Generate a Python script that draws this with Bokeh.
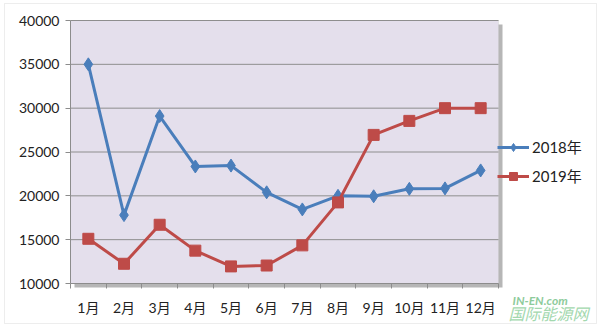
from bokeh.plotting import figure
from bokeh.models import Range1d, Legend, LegendItem, FixedTicker, Label, BoxAnnotation
from bokeh.embed import file_html
from bokeh.resources import INLINE

months = ["1月", "2月", "3月", "4月", "5月", "6月", "7月", "8月", "9月", "10月", "11月", "12月"]
s2018 = [35000, 17800, 29100, 23350, 23450, 20400, 18450, 20000, 19950, 20800, 20850, 22900]
s2019 = [15100, 12250, 16700, 13750, 11950, 12050, 14350, 19250, 26950, 28550, 30000, 30000]
names = ["2018年", "2019年"]
yticks = [10000, 15000, 20000, 25000, 30000, 35000, 40000]
watermark = ["IN-EN.com", "国际能源网"]

W, H = 600, 327
# plot-area geometry (pixels) of the chart
PL, PR, PT, PB = 70, 498, 20, 283
YMIN, YMAX = 10000, 40000
n = len(months)
xs = list(range(1, n + 1))

ux = (PR - PL) / n                 # px per category
uy = (PB - PT) / (YMAX - YMIN)      # px per value unit
x0 = 0.5 - PL / ux
x1 = n + 0.5 + (W - PR) / ux
y0 = YMIN - (H - PB) / uy
y1 = YMAX + PT / uy

def px_x(px):
    return x0 + px / ux

def px_y(py):
    return y1 - py / uy

FONT = "Lato, 'Noto Sans CJK SC', sans-serif"

p = figure(width=W, height=H, x_range=Range1d(x0, x1), y_range=Range1d(y0, y1),
           output_backend="svg", toolbar_location=None,
           min_border_left=0, min_border_right=0, min_border_top=0, min_border_bottom=0)
p.background_fill_color = "white"
p.border_fill_color = "white"
p.outline_line_color = None
p.xgrid.grid_line_color = None
p.ygrid.grid_line_color = None

# outer frame of the picture
p.add_layout(BoxAnnotation(left=px_x(4), right=px_x(596), top=px_y(3), bottom=px_y(323),
                           fill_alpha=0, line_color="#C4C4C4", line_width=1, level="underlay"))
# shadow of the plot area
p.add_layout(BoxAnnotation(left=px_x(PL + 4), right=px_x(PR + 4), top=px_y(PT + 4), bottom=px_y(PB + 4),
                           fill_color="#9E9E9E", fill_alpha=0.75, line_color=None, level="underlay"))
# plot area
p.add_layout(BoxAnnotation(left=0.5, right=n + 0.5, top=YMAX, bottom=YMIN,
                           fill_color="#E4DFEC", fill_alpha=1.0, line_color="#C8C8C8", line_width=1,
                           level="underlay"))

# horizontal grid lines
gy = [v for v in yticks if v > YMIN]
p.segment(x0=[0.5] * len(gy), x1=[n + 0.5] * len(gy), y0=gy, y1=gy,
          line_color="#8E8E8E", line_width=1)

xa = p.xaxis[0]
ya = p.yaxis[0]
xa.fixed_location = YMIN
ya.fixed_location = 0.5
xa.bounds = (0.5, n + 0.5)
ya.bounds = (YMIN, YMAX)
xa.ticker = FixedTicker(ticks=xs, minor_ticks=[i + 0.5 for i in range(0, n + 1)])
xa.major_label_overrides = {i: m for i, m in zip(xs, months)}
ya.ticker = FixedTicker(ticks=yticks)
for ax in (xa, ya):
    ax.axis_line_color = "#8C8C8C"
    ax.major_label_text_font = FONT
    ax.major_label_text_font_size = "14px"
    ax.major_label_text_color = "#222222"
xa.major_tick_line_color = None
xa.minor_tick_line_color = "#8C8C8C"
xa.minor_tick_out = 5
xa.minor_tick_in = 0
xa.major_label_standoff = 9
ya.major_tick_line_color = "#8C8C8C"
ya.minor_tick_line_color = None
ya.major_tick_out = 5
ya.major_tick_in = 0
ya.major_label_standoff = 6

blue = "#4A7EBB"
red = "#BE4B48"
l1 = p.line(xs, s2018, line_color=blue, line_width=3)
m1 = p.scatter(xs, s2018, marker="diamond", size=13, fill_color=blue, line_color=blue)
l2 = p.line(xs, s2019, line_color=red, line_width=3)
m2 = p.scatter(xs, s2019, marker="square", size=11, fill_color=red, line_color=red)

legend = Legend(items=[LegendItem(label=names[0], renderers=[l1, m1]),
                       LegendItem(label=names[1], renderers=[l2, m2])],
                location=(497, H - 186), background_fill_alpha=0, border_line_color=None,
                label_text_font=FONT, label_text_font_size="15px", label_text_color="#222222",
                glyph_width=32, label_standoff=3, spacing=8, padding=4, margin=0)
p.add_layout(legend, "center")

p.add_layout(Label(x=px_x(512), y=px_y(300), text=watermark[0], text_font=FONT,
                   text_font_size="12px", text_font_style="bold italic", text_color="#8DCB9B",
                   text_baseline="middle"))
p.add_layout(Label(x=px_x(508), y=px_y(312), text=watermark[1], text_font="'Noto Sans CJK SC'",
                   text_font_size="16px", text_font_style="italic", text_color="#A3D8AE",
                   text_baseline="middle"))

open("out.html", "w").write(file_html(p, INLINE))
